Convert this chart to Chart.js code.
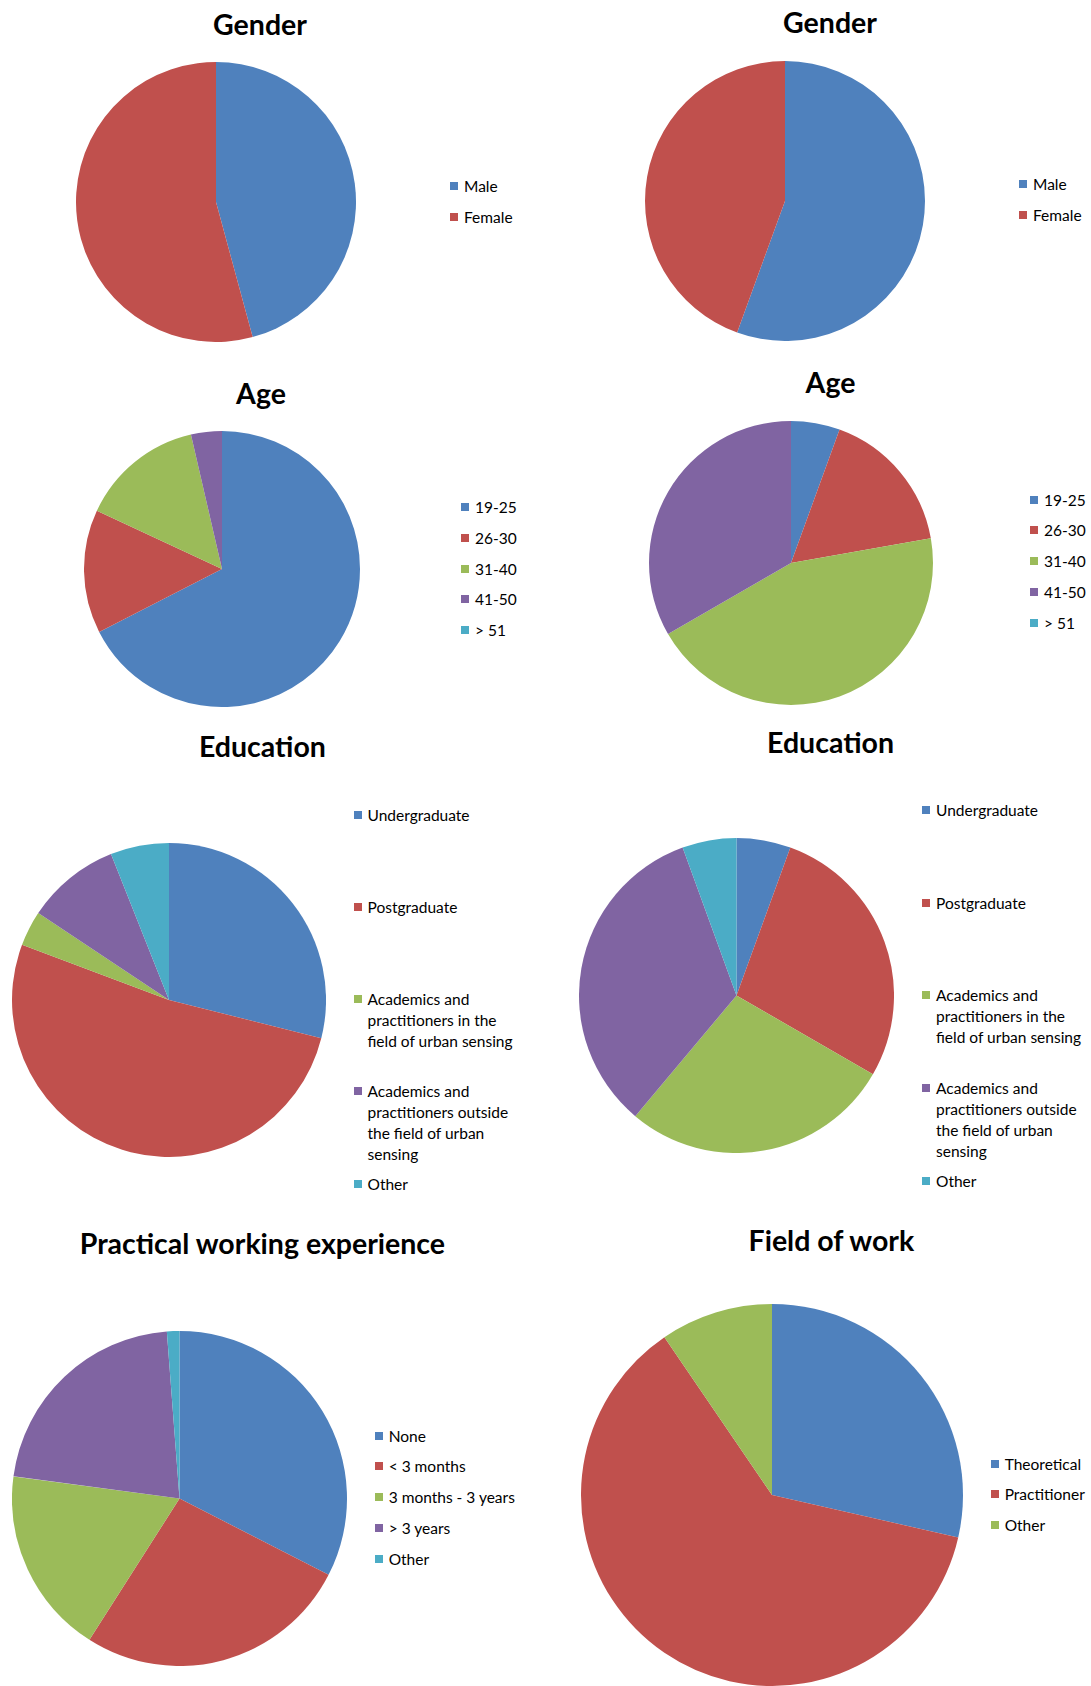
<!DOCTYPE html>
<html>
<head>
<meta charset="utf-8">
<script src="https://cdn.jsdelivr.net/npm/chart.js@4/dist/chart.umd.min.js"></script>
<style>
  body { margin: 0; background: #fff; }
  #page { position: relative; width: 1091px; height: 1686px; overflow: hidden; font-family: Lato, "Open Sans", sans-serif; }
  .pie { position: absolute; }
  .title { position: absolute; transform: translateX(-50%); font-weight: bold; font-size: 28.5px; line-height: 32px; color: #000; white-space: nowrap; }
  .legend-item { position: absolute; font-size: 15.5px; line-height: 21px; color: #000; white-space: nowrap; }
  .legend-item .box { position: absolute; left: 0; top: 6px; width: 8px; height: 8px; }
  .legend-item .txt { position: absolute; left: 14px; top: 0; }
</style>
</head>
<body>
<div id="page"></div>
<script>
  // Office 2007 palette
  const COLORS = ['#4F81BD', '#C0504D', '#9BBB59', '#8064A2', '#4BACC6'];

  // Data (left column: 83 respondents, right column: 36 / 21)
  const genderLabels = ['Male', 'Female'];
  const genderLeft = [38, 45];
  const genderRight = [20, 16];

  const ageLabels = ['19-25', '26-30', '31-40', '41-50', '> 51'];
  const ageLeft = [56, 12, 12, 3, 0];
  const ageRight = [2, 6, 16, 12, 0];

  const educationLabels = [
    'Undergraduate',
    'Postgraduate',
    ['Academics and', 'practitioners in the', 'field of urban sensing'],
    ['Academics and', 'practitioners outside', 'the field of urban', 'sensing'],
    'Other'
  ];
  const educationLeft = [24, 43, 3, 8, 5];
  const educationRight = [2, 10, 10, 12, 2];

  const experienceLabels = ['None', '< 3 months', '3 months - 3 years', '> 3 years', 'Other'];
  const experienceLeft = [27, 22, 15, 18, 1];

  const fieldLabels = ['Theoretical', 'Practitioner', 'Other'];
  const fieldRight = [6, 13, 2];

  // Layout of each panel
  const panels = [
    { title: 'Gender', labels: genderLabels, values: genderLeft, cx: 215.5, cy: 202, r: 140, tx: 260, ty: 8, lx: 450, ly: 186.7, step: 30.6 },
    { title: 'Gender', labels: genderLabels, values: genderRight, cx: 785.3, cy: 200.5, r: 140, tx: 830, ty: 6, lx: 1019, ly: 184.3, step: 31.5 },
    { title: 'Age', labels: ageLabels, values: ageLeft, cx: 222, cy: 569.3, r: 138, tx: 261, ty: 377, lx: 461, ly: 507.3, step: 30.85 },
    { title: 'Age', labels: ageLabels, values: ageRight, cx: 790.8, cy: 562.5, r: 142, tx: 830.5, ty: 366, lx: 1030, ly: 500, step: 30.8 },
    { title: 'Education', labels: educationLabels, values: educationLeft, cx: 168.6, cy: 999.7, r: 157, tx: 262.4, ty: 730, lx: 353.5, ly: 815, step: 92.3 },
    { title: 'Education', labels: educationLabels, values: educationRight, cx: 736.5, cy: 995.8, r: 157.5, tx: 830.5, ty: 726, lx: 922, ly: 810.7, step: 92.6 },
    { title: 'Practical working experience', labels: experienceLabels, values: experienceLeft, cx: 179.5, cy: 1498.5, r: 167.5, tx: 262.4, ty: 1227, lx: 374.7, ly: 1436, step: 30.8 },
    { title: 'Field of work', labels: fieldLabels, values: fieldRight, cx: 771.3, cy: 1495, r: 190.8, tx: 831.4, ty: 1224, lx: 990.7, ly: 1464.3, step: 30.35 }
  ];

  const page = document.getElementById('page');

  panels.forEach(p => {
    // title
    const t = document.createElement('div');
    t.className = 'title';
    t.style.left = p.tx + 'px';
    t.style.top = p.ty + 'px';
    t.textContent = p.title;
    page.appendChild(t);

    // pie canvas
    const size = Math.round(p.r * 2);
    const c = document.createElement('canvas');
    c.className = 'pie';
    c.width = size;
    c.height = size;
    c.style.left = (p.cx - p.r) + 'px';
    c.style.top = (p.cy - p.r) + 'px';
    page.appendChild(c);

    new Chart(c.getContext('2d'), {
      type: 'pie',
      data: {
        labels: p.labels,
        datasets: [{
          data: p.values,
          backgroundColor: COLORS.slice(0, p.values.length),
          borderWidth: 0
        }]
      },
      options: {
        responsive: false,
        animation: false,
        devicePixelRatio: 1,
        layout: { padding: 0 },
        plugins: {
          legend: { display: false },
          tooltip: { enabled: false }
        }
      }
    });

    // legend
    p.labels.forEach((label, i) => {
      const item = document.createElement('div');
      item.className = 'legend-item';
      item.style.left = p.lx + 'px';
      item.style.top = (p.ly + i * p.step - 10.5) + 'px';
      const lines = Array.isArray(label) ? label : [label];
      item.innerHTML = `<span class="box" style="background:${COLORS[i]}"></span><div class="txt">${lines.map(s => s.replace(/</g, '&lt;').replace(/>/g, '&gt;')).join('<br>')}</div>`;
      page.appendChild(item);
    });
  });
</script>
</body>
</html>
